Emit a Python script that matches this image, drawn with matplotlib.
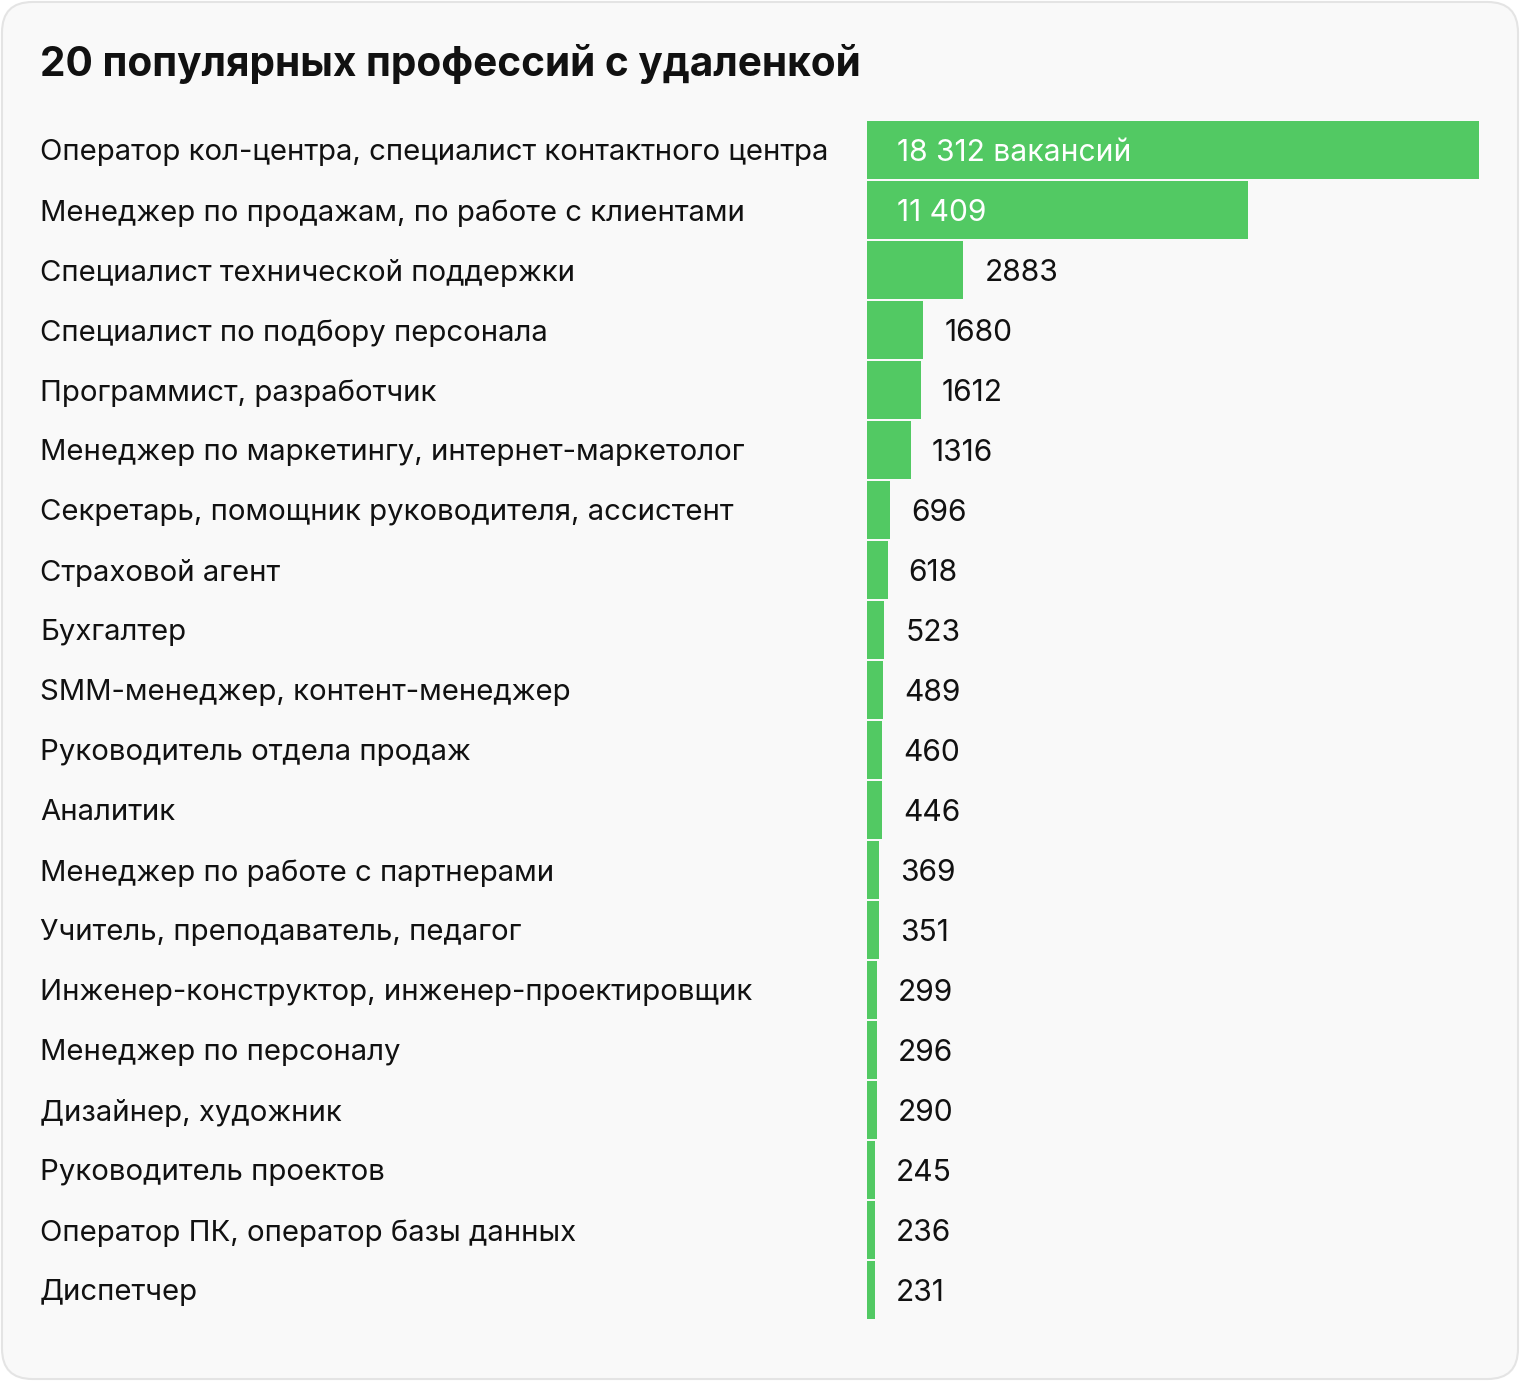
import matplotlib.pyplot as plt
import matplotlib.transforms as mtransforms
from matplotlib.patches import FancyBboxPatch

plt.rcParams['font.family'] = ['Inter', 'DejaVu Sans']

# Data
professions = [
    'Оператор кол-центра, специалист контактного центра',
    'Менеджер по продажам, по работе с клиентами',
    'Специалист технической поддержки',
    'Специалист по подбору персонала',
    'Программист, разработчик',
    'Менеджер по маркетингу, интернет-маркетолог',
    'Секретарь, помощник руководителя, ассистент',
    'Страховой агент',
    'Бухгалтер',
    'SMM-менеджер, контент-менеджер',
    'Руководитель отдела продаж',
    'Аналитик',
    'Менеджер по работе с партнерами',
    'Учитель, преподаватель, педагог',
    'Инженер-конструктор, инженер-проектировщик',
    'Менеджер по персоналу',
    'Дизайнер, художник',
    'Руководитель проектов',
    'Оператор ПК, оператор базы данных',
    'Диспетчер',
]
vacancies = [18312, 11409, 2883, 1680, 1612, 1316, 696, 618, 523, 489,
             460, 446, 369, 351, 299, 296, 290, 245, 236, 231]
value_labels = ['18 312 вакансий', '11 409'] + [str(v) for v in vacancies[2:]]

W, H = 1520, 1381
fig = plt.figure(figsize=(W / 100, H / 100), dpi=100)
fig.patch.set_facecolor('white')

# Card background
card = FancyBboxPatch((2 / W, 2 / H), (W - 4) / W, (H - 4) / H,
                      boxstyle='round,pad=0,rounding_size=0.02',
                      transform=fig.transFigure, facecolor='#f9f9f9',
                      edgecolor='#e4e4e4', linewidth=1.5, mutation_aspect=W / H,
                      zorder=-10)
fig.patches.append(card)

fig.text(40 / W, 1 - 64 / H, '20 популярных профессий с удаленкой',
         fontsize=29.2, fontweight='bold', color='#111111', va='center', ha='left')

# Axes: bars from x=867 to 1479 px, rows from y=120 to 1320 px
left, right = 867, 1479
top, bottom = 120, 1320
ax = fig.add_axes([left / W, 1 - bottom / H, (right - left) / W, (bottom - top) / H])
ax.set_facecolor('none')
ax.set_xlim(0, max(vacancies))
ax.set_ylim(len(vacancies) - 0.5, -0.5)
ax.axis('off')

ypos = list(range(len(vacancies)))
ax.barh(ypos, vacancies, height=0.965, color='#52c963', edgecolor='none')

label_tr = mtransforms.blended_transform_factory(fig.transFigure, ax.transData)
for y, name in zip(ypos, professions):
    ax.text(40 / W, y, name, transform=label_tr, fontsize=21.1, color='#111111',
            ha='left', va='center_baseline', clip_on=False)

for y, v, lab in zip(ypos, vacancies, value_labels):
    if y < 2:
        off = mtransforms.offset_copy(ax.transData, fig=fig, x=30, y=0, units='dots')
        ax.text(0, y, lab, transform=off, fontsize=21.6, color='white',
                ha='left', va='center_baseline')
    else:
        off = mtransforms.offset_copy(ax.transData, fig=fig, x=21, y=0, units='dots')
        ax.text(v, y, lab, transform=off, fontsize=21.6, color='#111111',
                ha='left', va='center_baseline', clip_on=False)

fig.savefig('out.png', dpi=100, facecolor='white')
